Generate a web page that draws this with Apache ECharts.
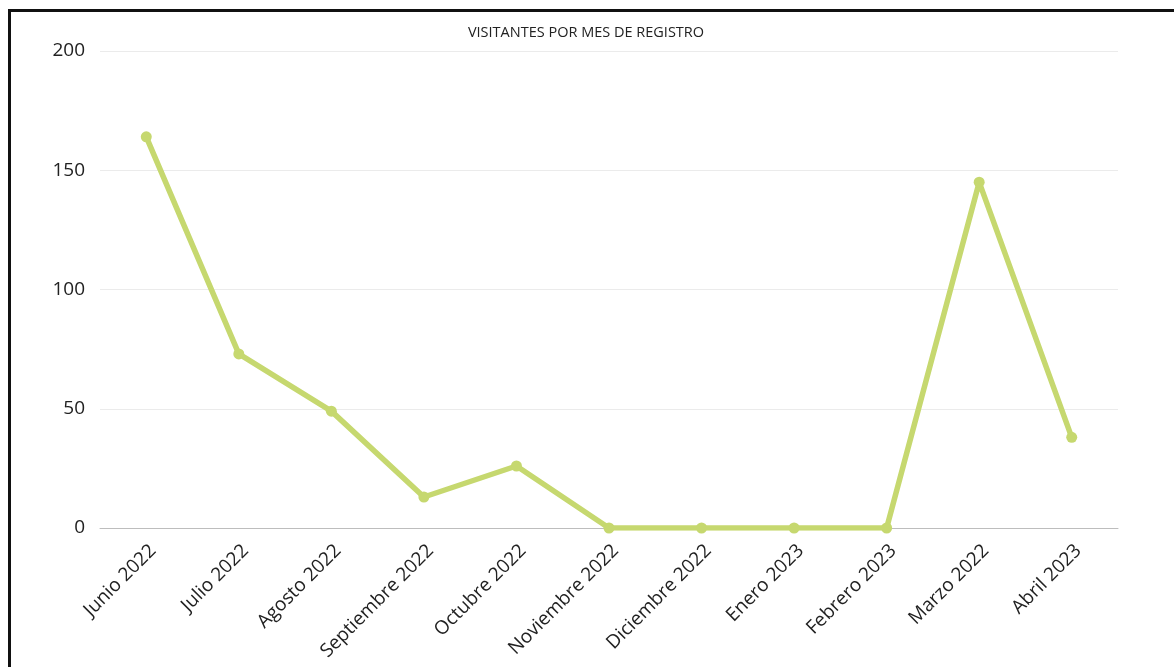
<!DOCTYPE html>
<html>
<head>
<meta charset="utf-8">
<script src="https://cdn.jsdelivr.net/npm/echarts@6/dist/echarts.min.js"></script>
<style>
  html, body { margin: 0; padding: 0; background: #fff; }
  #chart { width: 1174px; height: 667px; }
  #frame {
    position: absolute; left: 8px; top: 9px; width: 1166px; height: 658px;
    border-top: 3px solid #111; border-left: 3px solid #111; pointer-events: none;
  }
</style>
</head>
<body>
<div id="chart"></div>
<div id="frame"></div>
<script>
// datos del grafico
const meses = ["Junio 2022", "Julio 2022", "Agosto 2022", "Septiembre 2022", "Octubre 2022",
  "Noviembre 2022", "Diciembre 2022", "Enero 2023", "Febrero 2023", "Marzo 2022", "Abril 2023"];
const visitantes = [164, 73, 49, 13, 26, 0, 0, 0, 0, 145, 38];
const titulo = "VISITANTES POR MES DE REGISTRO";

const chart = echarts.init(document.getElementById("chart"));
const fuente = "'Open Sans', sans-serif";

chart.setOption({
  animation: false,
  title: {
    text: titulo,
    left: 581, top: 20, textAlign: "center",
    textStyle: { fontFamily: fuente, fontSize: 14.5, fontWeight: "normal", color: "#222" }
  },
  grid: { left: 100, right: 56, top: 51, bottom: 139 },
  xAxis: {
    type: "category",
    data: meses,
    boundaryGap: true,
    axisLine: { lineStyle: { color: "#bdbdbd" } },
    axisTick: { show: false },
    axisLabel: {
      rotate: 45, fontFamily: fuente, fontSize: 19, color: "#222", margin: 13,
      align: "right", verticalAlign: "top"
    }
  },
  yAxis: {
    type: "value",
    min: 0, max: 200, interval: 50,
    axisLine: { show: false },
    axisTick: { show: false },
    splitLine: { lineStyle: { color: "#ebebeb" } },
    axisLabel: { fontFamily: fuente, fontSize: 19, color: "#222", margin: 15 }
  },
  series: [{
    type: "line",
    data: visitantes,
    color: "#c6d86f",
    lineStyle: { width: 5.5, color: "#c6d86f" },
    symbol: "circle",
    symbolSize: 11,
    itemStyle: { color: "#c6d86f" }
  }]
});
</script>
</body>
</html>
